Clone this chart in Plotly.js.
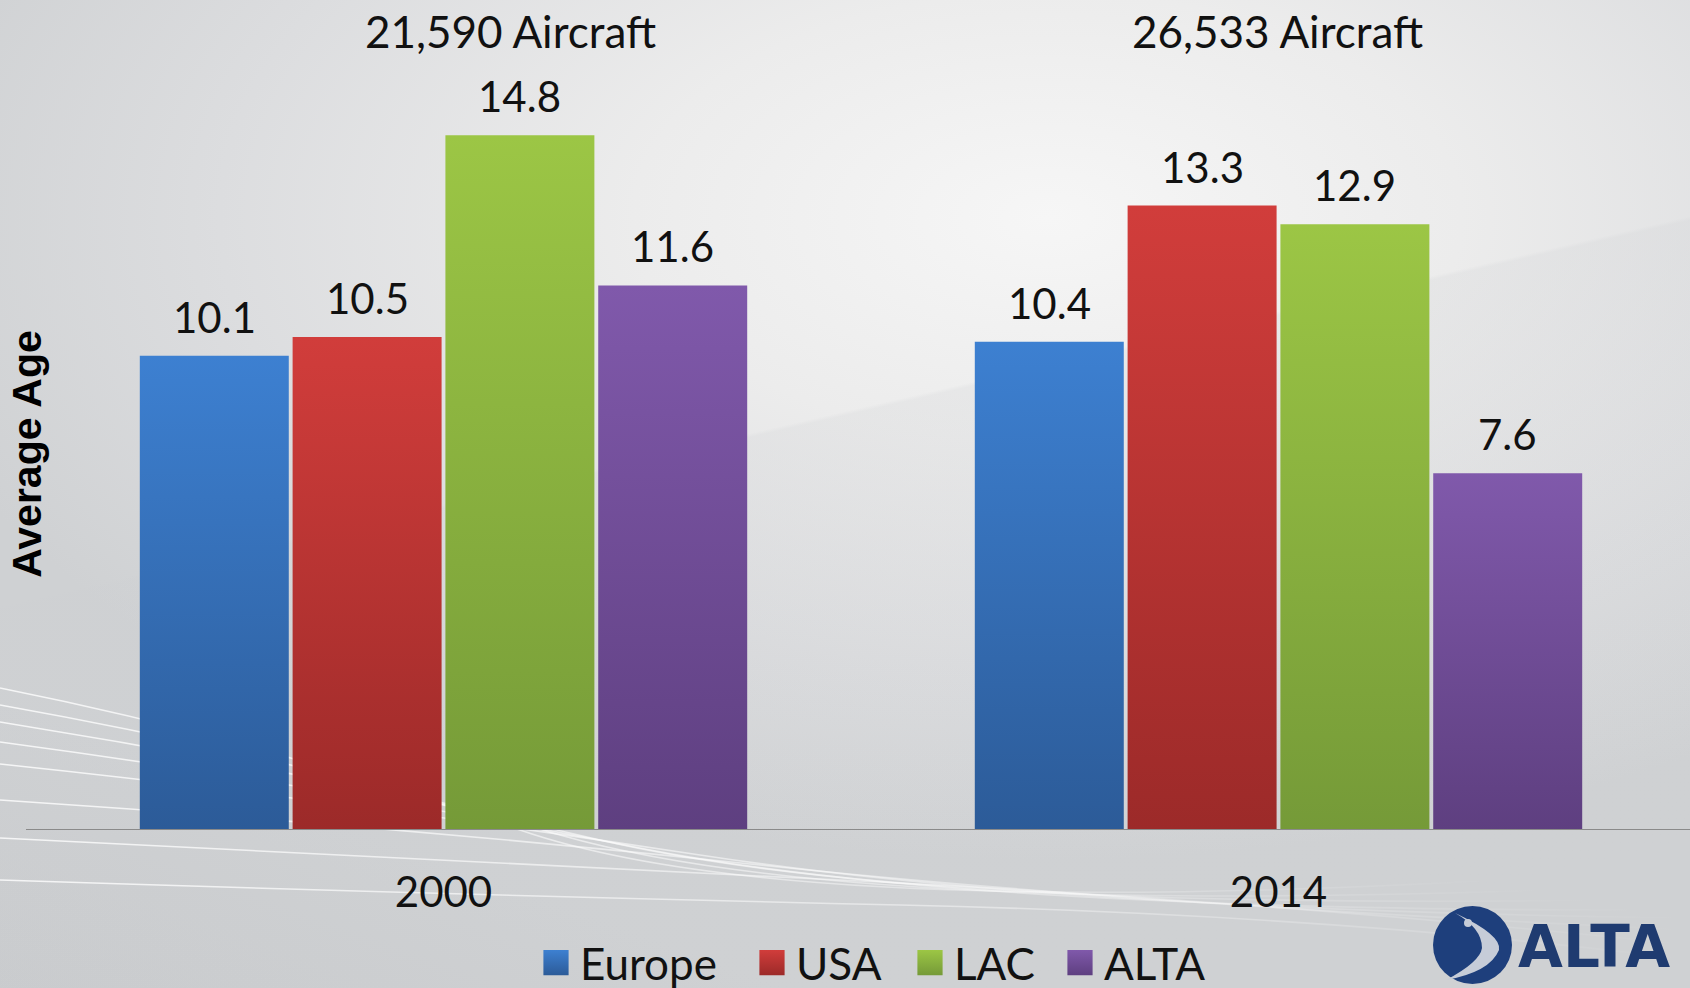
<!DOCTYPE html>
<html>
<head>
<meta charset="utf-8">
<script src="https://cdn.plot.ly/plotly-3.0.1.min.js"></script>
<style>
  html, body { margin: 0; padding: 0; }
  body {
    width: 1690px; height: 988px; overflow: hidden; position: relative;
    background:
      linear-gradient(167deg, rgba(255,255,255,0) 44%, rgba(205,207,210,0.22) 44.3%, rgba(205,207,210,0.0) 90%),
      linear-gradient(20deg, rgba(190,192,195,0.35) 0%, rgba(190,192,195,0) 18%),
      radial-gradient(ellipse 70% 65% at 62% 22%, #f6f6f6 0%, #ececec 35%, #dcdddf 70%, #cfd1d3 100%);
  }
  #deco { position: absolute; left: 0; top: 0; width: 1690px; height: 988px; }
  #chart { position: absolute; left: 0; top: 0; width: 1690px; height: 988px; }
</style>
</head>
<body>
<svg id="deco" width="1690" height="988">
  <defs>
    <linearGradient id="fadeLines" x1="0" y1="0" x2="1" y2="0">
      <stop offset="0" stop-color="#ffffff" stop-opacity="0.8"/>
      <stop offset="0.55" stop-color="#ffffff" stop-opacity="0.45"/>
      <stop offset="1" stop-color="#ffffff" stop-opacity="0"/>
    </linearGradient>
  </defs>
  <g fill="none" stroke="url(#fadeLines)" stroke-width="1.6">
    <path d="M0,688 Q260,740 520,830 T1500,880"/>
    <path d="M0,705 Q280,755 560,835 T1550,890"/>
    <path d="M0,722 Q300,770 600,840 T1600,900"/>
    <path d="M0,742 Q320,785 640,848 T1650,910"/>
    <path d="M0,764 Q340,800 700,855 T1690,918"/>
    <path d="M0,800 Q380,825 760,865 T1690,930"/>
    <path d="M0,838 Q420,860 840,880 T1690,945"/>
    <path d="M0,880 Q460,895 900,905 T1690,960"/>
  </g>
</svg>
<div id="chart"></div>
<script>
// ---- data ----
const categories = ['2000', '2014'];
const seriesNames = ['Europe', 'USA', 'LAC', 'ALTA'];
const europe = [10.1, 10.4];
const usa    = [10.5, 13.3];
const lac    = [14.8, 12.9];
const alta   = [11.6, 7.6];
const fleetLabels = ['21,590 Aircraft', '26,533 Aircraft'];

// ---- styles / layout helpers ----
const seriesValues = [europe, usa, lac, alta];
const midColors = ['#3670b8', '#b93534', '#8ab040', '#6f4f98'];
const topColors = ['#3d80d1', '#d13d3b', '#9cc645', '#8059ab'];
const botColors = ['#2c5b98', '#9c2a29', '#759a38', '#5e3f80'];
const FONT = 'Lato, "Open Sans", sans-serif';

const W = 1690, H = 988;
const M = { l: 56, r: 0, t: 78, b: 158 };
const PW = W - M.l - M.r, PH = H - M.t - M.b;
const px = x => (x - M.l) / PW;          // pixel -> paper x
const py = y => (H - M.b - y) / PH;      // pixel -> paper y

const BARGAP = 0.268, BARGROUPGAP = 0.025;
const slot = (1 - BARGAP) / seriesNames.length;
const legendNames = ['legend', 'legend2', 'legend3', 'legend4'];

const traces = seriesNames.map((name, i) => ({
  type: 'bar',
  name: name,
  x: categories,
  y: seriesValues[i],
  legend: legendNames[i],
  marker: { color: midColors[i], line: { width: 0 } },
  hoverinfo: 'x+y+name'
}));

// value labels, placed over each bar through the axes' own scales
const annotations = [];
seriesValues.forEach((vals, i) => {
  vals.forEach((v, c) => {
    annotations.push({
      text: v.toFixed(1), xref: 'x', yref: 'y',
      x: c + (i - (seriesNames.length - 1) / 2) * slot, y: v,
      xanchor: 'center', yanchor: 'bottom', yshift: 12, showarrow: false,
      font: { family: FONT, size: 42, color: '#111111' }
    });
  });
});

const fleetX = [510, 1277];
fleetLabels.forEach((t, i) => annotations.push({
  text: t, xref: 'paper', yref: 'paper', x: px(fleetX[i]), y: py(31),
  xanchor: 'center', yanchor: 'middle', showarrow: false,
  font: { family: FONT, size: 44, color: '#111111' }
}));
annotations.push({
  text: '<b>ALTA</b>', xref: 'paper', yref: 'paper', x: px(1516), y: py(947),
  xanchor: 'left', yanchor: 'middle', showarrow: false,
  font: { family: '"DejaVu Sans", Verdana, sans-serif', size: 58, color: '#1f3b70' }
});

const legendX = [540, 756, 914, 1064];
const legendBase = {
  orientation: 'h', y: py(963), xanchor: 'left', yanchor: 'middle',
  font: { family: FONT, size: 44, color: '#111111' },
  bgcolor: 'rgba(0,0,0,0)', borderwidth: 0, itemclick: false, itemdoubleclick: false
};

const layout = {
  width: W, height: H,
  margin: { l: M.l, r: M.r, t: M.t, b: M.b, autoexpand: false },
  paper_bgcolor: 'rgba(0,0,0,0)',
  plot_bgcolor: 'rgba(0,0,0,0)',
  barmode: 'group',
  bargap: BARGAP,
  bargroupgap: BARGROUPGAP,
  showlegend: true,
  xaxis: {
    type: 'category',
    range: [(M.l - 443.5) / 835, (W - 443.5) / 835],
    showline: false, showgrid: false, zeroline: false, ticks: '',
    tickfont: { family: FONT, size: 42, color: '#111111' },
    ticklabelstandoff: 34
  },
  yaxis: {
    range: [0, PH / 46.95],
    showgrid: false, zeroline: false, showline: false, showticklabels: false, ticks: '',
    title: { text: 'Average Age', standoff: 0,
             font: { family: '"Liberation Sans", Arial, sans-serif', size: 41, color: '#000000', weight: 'bold' } }
  },
  shapes: [
    { type: 'line', xref: 'paper', yref: 'y', x0: px(26), x1: 1, y0: 0, y1: 0,
      line: { color: '#8a8a8a', width: 2 }, layer: 'above' },
    { type: 'circle', xref: 'paper', yref: 'paper', x0: px(1433), x1: px(1512), y0: py(984), y1: py(906),
      fillcolor: '#1e3f7c', line: { width: 0 } },
    { type: 'path', xref: 'paper', yref: 'paper',
      path: `M${px(1455)},${py(913)} Q${px(1502)},${py(935)} ${px(1499)},${py(950)} Q${px(1490)},${py(972)} ${px(1446)},${py(980)} Q${px(1480)},${py(962)} ${px(1482)},${py(948)} Q${px(1482)},${py(928)} ${px(1455)},${py(913)} Z`,
      fillcolor: '#c6ccd8', line: { width: 0 } },
    { type: 'circle', xref: 'paper', yref: 'paper', x0: px(1464), x1: px(1472), y0: py(927), y1: py(919),
      fillcolor: '#c6ccd8', line: { width: 0 } }
  ],
  annotations: annotations
};
legendNames.forEach((ln, i) => { layout[ln] = Object.assign({}, legendBase, { x: px(legendX[i]) }); });

Plotly.newPlot('chart', traces, layout, { displayModeBar: false, staticPlot: true }).then(gd => {
  // vertical gradient fills for bars (style only)
  const svg = gd.querySelector('.main-svg');
  const defs = svg.querySelector('defs');
  const NS = 'http://www.w3.org/2000/svg';
  seriesNames.forEach((n, i) => {
    const lg = document.createElementNS(NS, 'linearGradient');
    lg.setAttribute('id', 'barGrad' + i);
    lg.setAttribute('x1', '0'); lg.setAttribute('y1', '0');
    lg.setAttribute('x2', '0'); lg.setAttribute('y2', '1');
    const s1 = document.createElementNS(NS, 'stop');
    s1.setAttribute('offset', '0'); s1.setAttribute('stop-color', topColors[i]);
    const s2 = document.createElementNS(NS, 'stop');
    s2.setAttribute('offset', '1'); s2.setAttribute('stop-color', botColors[i]);
    lg.appendChild(s1); lg.appendChild(s2); defs.appendChild(lg);
  });
  gd.querySelectorAll('.barlayer .trace').forEach((t, i) => {
    t.querySelectorAll('.point path').forEach(p => { p.style.fill = 'url(#barGrad' + i + ')'; });
  });
  legendNames.forEach((ln, i) => {
    gd.querySelectorAll('g.' + ln + ' .legendpoints path').forEach(p => {
      p.setAttribute('transform', (p.getAttribute('transform') || '') + ' translate(-4,0) scale(2.1)');
      p.style.fill = 'url(#barGrad' + i + ')';
      p.style.stroke = 'none';
    });
  });
});
</script>
</body>
</html>
